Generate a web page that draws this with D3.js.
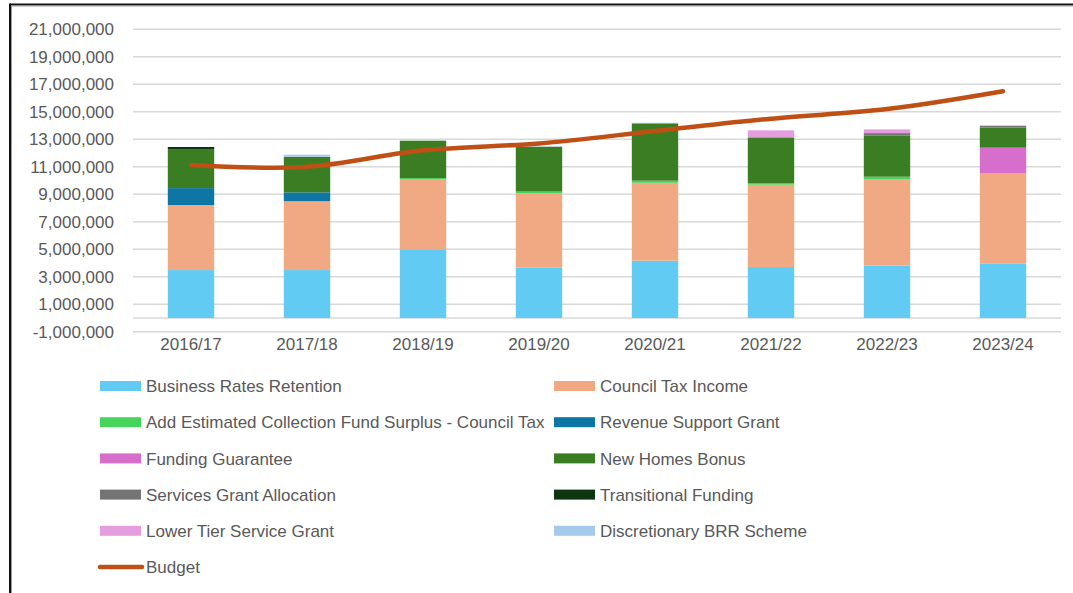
<!DOCTYPE html>
<html>
<head>
<meta charset="utf-8">
<script src="https://cdn.jsdelivr.net/npm/d3@7"></script>
<style>
  body { margin: 0; background: #fff; }
  svg { display: block; font-family: "Liberation Sans", Arial, sans-serif; }
  .tick-label { fill: #595959; font-size: 17px; }
  .legend-label { fill: #595959; font-size: 17px; }
</style>
</head>
<body>
<svg id="chart"></svg>
<script>
const years = ['2016/17', '2017/18', '2018/19', '2019/20', '2020/21', '2021/22', '2022/23', '2023/24']

// values in pounds
const businessRates = [3490000, 3490000, 4950000, 3660000, 4170000, 3710000, 3810000, 3950000]
const councilTax = [4730000, 4970000, 5160000, 5410000, 5670000, 5990000, 6300000, 6600000]
const collectionSurplus = [0, 50000, 70000, 130000, 150000, 120000, 170000, 0]
const revenueSupport = [1230000, 630000, 0, 0, 0, 0, 0, 0]
const fundingGuarantee = [0, 0, 0, 0, 0, 0, 0, 1840000]
const newHomesBonus = [2840000, 2590000, 2720000, 3260000, 4170000, 3320000, 2980000, 1460000]
const servicesGrant = [0, 0, 0, 0, 0, 0, 190000, 140000]
const transitional = [150000, 0, 0, 0, 0, 0, 0, 0]
const lowerTier = [0, 0, 0, 0, 0, 510000, 270000, 0]
const discretionaryBRR = [0, 150000, 0, 30000, 40000, 0, 0, 0]
const budget = [11130000, 11000000, 12200000, 12700000, 13600000, 14500000, 15200000, 16500000]

const seriesNames = [
  'Business Rates Retention', 'Council Tax Income',
  'Add Estimated Collection Fund Surplus - Council Tax', 'Revenue Support Grant',
  'Funding Guarantee', 'New Homes Bonus',
  'Services Grant Allocation', 'Transitional Funding',
  'Lower Tier Service Grant', 'Discretionary BRR Scheme'
]
const seriesValues = [businessRates, councilTax, collectionSurplus, revenueSupport,
  fundingGuarantee, newHomesBonus, servicesGrant, transitional, lowerTier, discretionaryBRR]
const seriesColors = ['#61cbf3', '#f1a983', '#47d45a', '#0e76a5', '#d86ecc',
  '#3b7d23', '#747474', '#0d3512', '#e59edd', '#a6caec']
const yTicks = d3.range(-1000000, 21000001, 2000000)

const width = 1073
const height = 593

const svg = d3.select('#chart')
  .attr('width', width)
  .attr('height', height)

const x = d3.scaleBand()
  .domain(years)
  .range([133, 1061])
  .paddingInner(0.6)
  .paddingOuter(0.3)

const y = d3.scaleLinear()
  .domain([-1000000, 21000000])
  .range([331.8, 29.3])

const fmt = d3.formatLocale({ decimal: '.', thousands: ',', grouping: [3], currency: ['', ''], minus: '-' }).format(',')

// gridlines
svg.append('g')
  .selectAll('line')
  .data(yTicks.concat([0]))
  .enter().append('line')
    .attr('x1', 133)
    .attr('x2', 1061)
    .attr('y1', d => y(d))
    .attr('y2', d => y(d))
    .attr('stroke', '#d9d9d9')
    .attr('stroke-width', 1.5)

svg.append('g')
  .selectAll('text')
  .data(yTicks)
  .enter().append('text')
    .attr('class', 'tick-label')
    .attr('x', 114)
    .attr('y', d => y(d))
    .attr('dy', '0.36em')
    .attr('text-anchor', 'end')
    .text(d => fmt(d))

svg.append('g')
  .selectAll('text')
  .data(years)
  .enter().append('text')
    .attr('class', 'tick-label')
    .attr('x', d => x(d) + x.bandwidth() / 2)
    .attr('y', 344)
    .attr('dy', '0.36em')
    .attr('text-anchor', 'middle')
    .text(d => d)

// stacked bars
const table = years.map((yr, i) => {
  const row = { year: yr }
  seriesNames.forEach((name, j) => { row[name] = seriesValues[j][i] })
  return row
})

const stack = d3.stack().keys(seriesNames)(table)

svg.append('g')
  .selectAll('g')
  .data(stack)
  .enter().append('g')
    .attr('fill', (d, i) => seriesColors[i])
  .selectAll('rect')
  .data(d => d.filter(p => p[1] > p[0]))
  .enter().append('rect')
    .attr('x', d => x(d.data.year))
    .attr('width', x.bandwidth())
    .attr('y', d => y(d[1]))
    .attr('height', d => y(d[0]) - y(d[1]))

// budget line
const line = d3.line()
  .x((d, i) => x(years[i]) + x.bandwidth() / 2)
  .y(d => y(d))
  .curve(d3.curveCatmullRom)

svg.append('path')
  .datum(budget)
  .attr('d', line)
  .attr('fill', 'none')
  .attr('stroke', '#c04f15')
  .attr('stroke-width', 4.5)
  .attr('stroke-linecap', 'round')

// legend
const legendItems = seriesNames.map((n, i) => ({ name: n, color: seriesColors[i], type: 'bar' }))
legendItems.push({ name: 'Budget', color: '#c04f15', type: 'line' })

const colX = [100, 554]
const legend = svg.append('g')
  .selectAll('g')
  .data(legendItems)
  .enter().append('g')
    .attr('transform', (d, i) => `translate(${colX[i % 2]},${386 + Math.floor(i / 2) * 36.2})`)

legend.filter(d => d.type === 'bar').append('rect')
  .attr('x', 0)
  .attr('y', -5)
  .attr('width', 41)
  .attr('height', 10)
  .attr('fill', d => d.color)

legend.filter(d => d.type === 'line').append('line')
  .attr('x1', 0)
  .attr('x2', 42)
  .attr('stroke', d => d.color)
  .attr('stroke-width', 4.5)
  .attr('stroke-linecap', 'round')

legend.append('text')
  .attr('class', 'legend-label')
  .attr('x', 46)
  .attr('dy', '0.36em')
  .text(d => d.name)

// frame
svg.append('line')
  .attr('x1', 10).attr('x2', width)
  .attr('y1', 4.5).attr('y2', 4.5)
  .attr('stroke', '#111').attr('stroke-width', 2)
svg.append('line')
  .attr('x1', 10).attr('x2', width)
  .attr('y1', 6).attr('y2', 6)
  .attr('stroke', '#999').attr('stroke-width', 1)
svg.append('line')
  .attr('x1', 10).attr('x2', 10)
  .attr('y1', 3.5).attr('y2', height)
  .attr('stroke', '#111').attr('stroke-width', 2)
svg.append('line')
  .attr('x1', 11.5).attr('x2', 11.5)
  .attr('y1', 5.5).attr('y2', height)
  .attr('stroke', '#999').attr('stroke-width', 1)
</script>
</body>
</html>
